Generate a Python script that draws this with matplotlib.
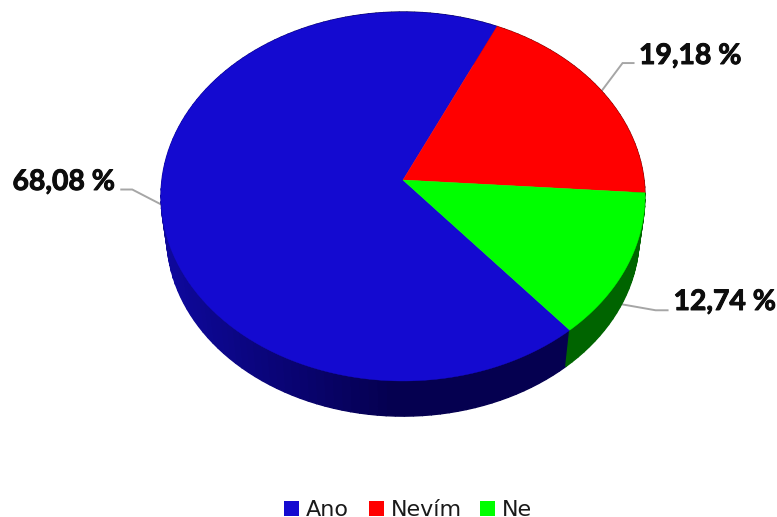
import numpy as np
import matplotlib
matplotlib.use('Agg')
import matplotlib.pyplot as plt
import matplotlib.patheffects as pe
from matplotlib.patches import Rectangle

categories = ['Ano', 'Nevím', 'Ne']
percentages = [68.08, 19.18, 12.74]
face_colors = ['#140AD0', '#FF0000', '#00FF00']

# Disc geometry in pixels, angles run clockwise from north
CENTER_X, CENTER_Y = 403, 180
RADIUS_X, RADIUS_Y = 241, 183
TILT = 0.0894
START_DEG = 139.85
LOWER_SCALE, LOWER_DROP = 0.976, 40


def project(deg, lower=False):
    """Map a rim angle onto the tilted disc (top face or lower edge)."""
    rad = np.radians(deg)
    u, v = np.sin(rad), np.cos(rad)
    w = 1 + TILT * v
    x, y = RADIUS_X * u / w, -RADIUS_Y * v / w
    if lower:
        return CENTER_X + LOWER_SCALE * x, CENTER_Y + LOWER_DROP + LOWER_SCALE * y
    return CENTER_X + x, CENTER_Y + y


def wall_color(index, x):
    """Side wall shade; the blue slice darkens towards the middle."""
    if index == 0:
        t = np.clip((x - 168) / (390 - 168), 0, 1)
        return (np.interp(t, [0, 1], [14, 5]) / 255,
                np.interp(t, [0, 1], [8, 0]) / 255,
                np.interp(t, [0, 1], [155, 80]) / 255)
    return ['#000000', '#700000', '#006400'][index]


fig = plt.figure(figsize=(7.77, 5.17), dpi=100)
ax = fig.add_axes([0, 0, 1, 1])
ax.set_xlim(0, 777)
ax.set_ylim(517, 0)
ax.axis('off')

spans = np.array(percentages) * 3.6
starts = START_DEG + np.concatenate([[0], np.cumsum(spans)[:-1]])

# Side wall first, the top face hides whatever is behind it
for i, (start, span) in enumerate(zip(starts, spans)):
    edges = np.linspace(start, start + span, int(span / 2) + 2)
    for a, b in zip(edges[:-1], edges[1:]):
        xa, ya = project(a)
        xb, yb = project(b)
        xc, yc = project(b, lower=True)
        xd, yd = project(a, lower=True)
        color = wall_color(i, (xa + xb) / 2)
        ax.fill([xa, xb, xc, xd], [ya, yb, yc, yd], color=color, lw=1.0, zorder=1)

# Top face wedges
for i, (start, span) in enumerate(zip(starts, spans)):
    rim_x, rim_y = project(np.linspace(start, start + span, 200))
    ax.fill(np.r_[CENTER_X, rim_x], np.r_[CENTER_Y, rim_y], color=face_colors[i], lw=0.3, zorder=2)

# Value labels with elbow leaders: elbow offset, end offset, text position, rim used
leaders = [
    ((-29, -15), (-40, -15), (115.5, 182), 'right', False),
    ((21, -28), (32, -28), (639, 56), 'left', False),
    ((34, 6), (46, 6), (673.5, 302), 'left', True),
]
mids = starts + spans / 2
for i, (elbow, end, pos, align, lower) in enumerate(leaders):
    x0, y0 = project(mids[i], lower=lower)
    ax.plot([x0, x0 + elbow[0], x0 + end[0]], [y0, y0 + elbow[1], y0 + end[1]],
            color='#A6A6A6', lw=1.4, zorder=0.5, solid_joinstyle='miter')
    label = f'{percentages[i]:.2f} %'.replace('.', ',')
    ax.text(pos[0], pos[1], label, ha=align, va='center', family='Lato',
            fontweight='bold', fontsize=20.4, color='#0D0D0D',
            path_effects=[pe.withStroke(linewidth=0.7, foreground='#0D0D0D')])

# Legend
swatch_x = [284, 369, 480]
for name, color, x in zip(categories, face_colors, swatch_x):
    ax.add_patch(Rectangle((x, 500.5), 15, 15, facecolor=color, edgecolor='none'))
    ax.text(x + 22, 515.5, name, ha='left', va='baseline', family='DejaVu Sans',
            fontsize=16, color='#1A1A1A')

fig.savefig('out.png', dpi=100, facecolor='white')
